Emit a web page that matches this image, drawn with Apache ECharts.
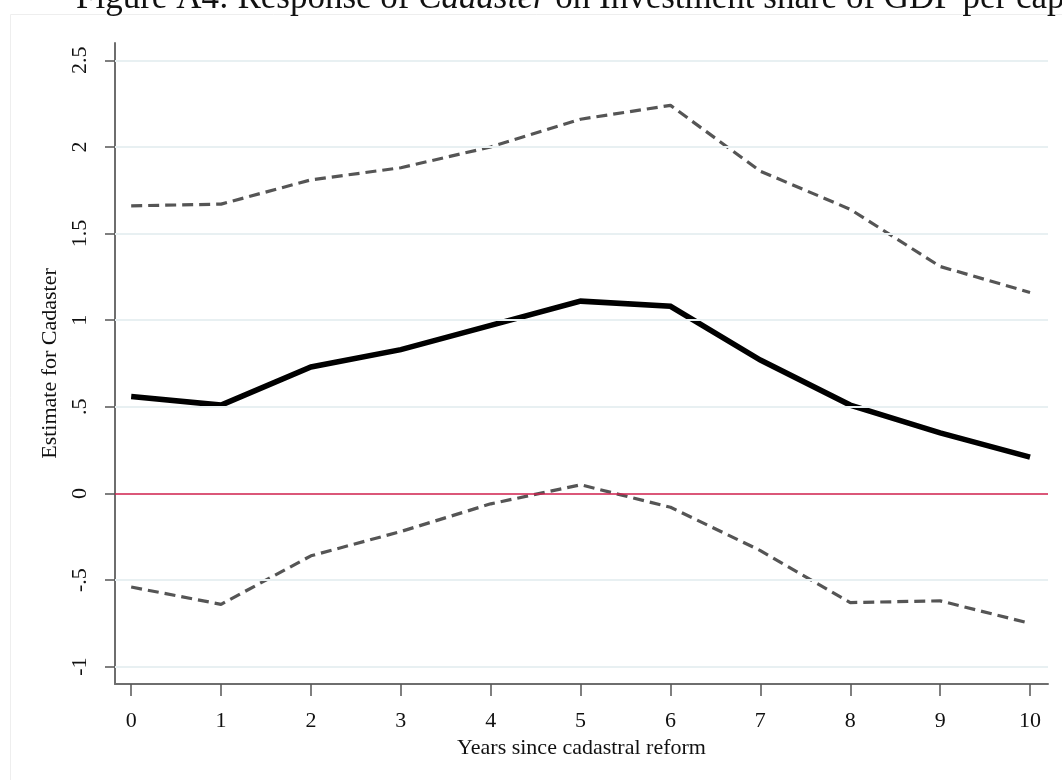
<!DOCTYPE html>
<html>
<head>
<meta charset="utf-8">
<script src="https://cdn.jsdelivr.net/npm/echarts@6/dist/echarts.min.js"></script>
<style>
html,body{margin:0;padding:0;background:#fff;}
#chart{width:1062px;height:780px;}
</style>
</head>
<body>
<div id="chart"></div>
<script>
// ---- data ----
const years = [0, 1, 2, 3, 4, 5, 6, 7, 8, 9, 10];
const estimate = [0.56, 0.51, 0.73, 0.83, 0.97, 1.11, 1.08, 0.77, 0.51, 0.35, 0.21];
const upperCI = [1.66, 1.67, 1.81, 1.88, 2.00, 2.16, 2.24, 1.86, 1.64, 1.31, 1.16];
const lowerCI = [-0.54, -0.64, -0.36, -0.22, -0.06, 0.05, -0.08, -0.33, -0.63, -0.62, -0.75];
const yTicks = [-1, -0.5, 0, 0.5, 1, 1.5, 2, 2.5];
const xTicks = [0, 1, 2, 3, 4, 5, 6, 7, 8, 9, 10];
const titleText = 'Figure A4: Response of ';
const titleItalic = 'Cadaster';
const titleRest = ' on Investment share of GDP per capita';
const yName = 'Estimate for Cadaster';
const xName = 'Years since cadastral reform';

const FONT = 'Liberation Serif';
const pairs = arr => years.map((x, i) => [x, arr[i]]);
const fmtY = v => {
  if (v === 0) return '0';
  const s = String(Math.abs(v)).replace(/^0\./, '.');
  return (v < 0 ? '-' : '') + s;
};

const chart = echarts.init(document.getElementById('chart'), null, {renderer: 'canvas'});
chart.setOption({
  animation: false,
  backgroundColor: '#ffffff',
  title: {
    text: '{a|' + titleText + '}{b|' + titleItalic + '}{a|' + titleRest + '}',
    left: 76,
    top: -19,
    padding: 0,
    textStyle: {
      fontWeight: 'normal',
      rich: {
        a: {fontFamily: FONT, fontSize: 35, fontWeight: 'normal', color: '#111', lineHeight: 35},
        b: {fontFamily: FONT, fontSize: 35, fontWeight: 'normal', color: '#111', fontStyle: 'italic', lineHeight: 35}
      }
    }
  },
  graphic: [{
    type: 'rect',
    z: -10,
    shape: {x: 10.5, y: 14.5, width: 1100, height: 900},
    style: {fill: 'none', stroke: '#eeeeee', lineWidth: 1}
  }],
  grid: {left: 115, right: 14, top: 43, bottom: 96, containLabel: false},
  xAxis: {
    type: 'value',
    min: -0.18,
    max: 10.2,
    name: xName,
    nameLocation: 'middle',
    nameGap: 52,
    nameTextStyle: {fontFamily: FONT, fontSize: 22, color: '#111'},
    axisLine: {show: true, onZero: false, lineStyle: {color: '#6e6e6e', width: 2}},
    axisTick: {show: true, length: 12, customValues: xTicks, lineStyle: {color: '#555', width: 1.5}},
    axisLabel: {customValues: xTicks, margin: 26, fontFamily: FONT, fontSize: 22, color: '#111', showMinLabel: true, showMaxLabel: true},
    splitLine: {show: false}
  },
  yAxis: {
    type: 'value',
    min: -1.1,
    max: 2.6,
    name: yName,
    nameLocation: 'middle',
    nameRotate: 90,
    nameGap: 46,
    nameTextStyle: {fontFamily: FONT, fontSize: 22, color: '#111'},
    axisLine: {show: true, onZero: false, lineStyle: {color: '#6e6e6e', width: 2}},
    axisTick: {show: true, length: 10, customValues: yTicks, lineStyle: {color: '#555', width: 1.5}},
    axisLabel: {customValues: yTicks, rotate: 90, margin: 24, fontFamily: FONT, fontSize: 22, color: '#111', formatter: fmtY},
    splitLine: {show: false}
  },
  series: [
    {
      type: 'line',
      data: [],
      z: 1,
      silent: true,
      markLine: {
        silent: true,
        symbol: 'none',
        label: {show: false},
        animation: false,
        data: yTicks.map(v => v === 0
          ? {yAxis: v, lineStyle: {color: '#cf1f4c', width: 1.6, type: 'solid'}}
          : {yAxis: v, lineStyle: {color: '#e8f0f2', width: 2, type: 'solid'}})
      }
    },
    {
      name: 'upper',
      type: 'line',
      z: 3,
      data: pairs(upperCI),
      showSymbol: false,
      symbol: 'none',
      lineStyle: {color: '#555555', width: 3.2, type: [11, 6], cap: 'butt'}
    },
    {
      name: 'lower',
      type: 'line',
      z: 3,
      data: pairs(lowerCI),
      showSymbol: false,
      symbol: 'none',
      lineStyle: {color: '#555555', width: 3.2, type: [11, 6], cap: 'butt'}
    },
    {
      name: 'estimate',
      type: 'line',
      z: 4,
      data: pairs(estimate),
      showSymbol: false,
      symbol: 'none',
      lineStyle: {color: '#000000', width: 5.5, cap: 'butt', join: 'miter'}
    }
  ]
});
</script>
</body>
</html>
